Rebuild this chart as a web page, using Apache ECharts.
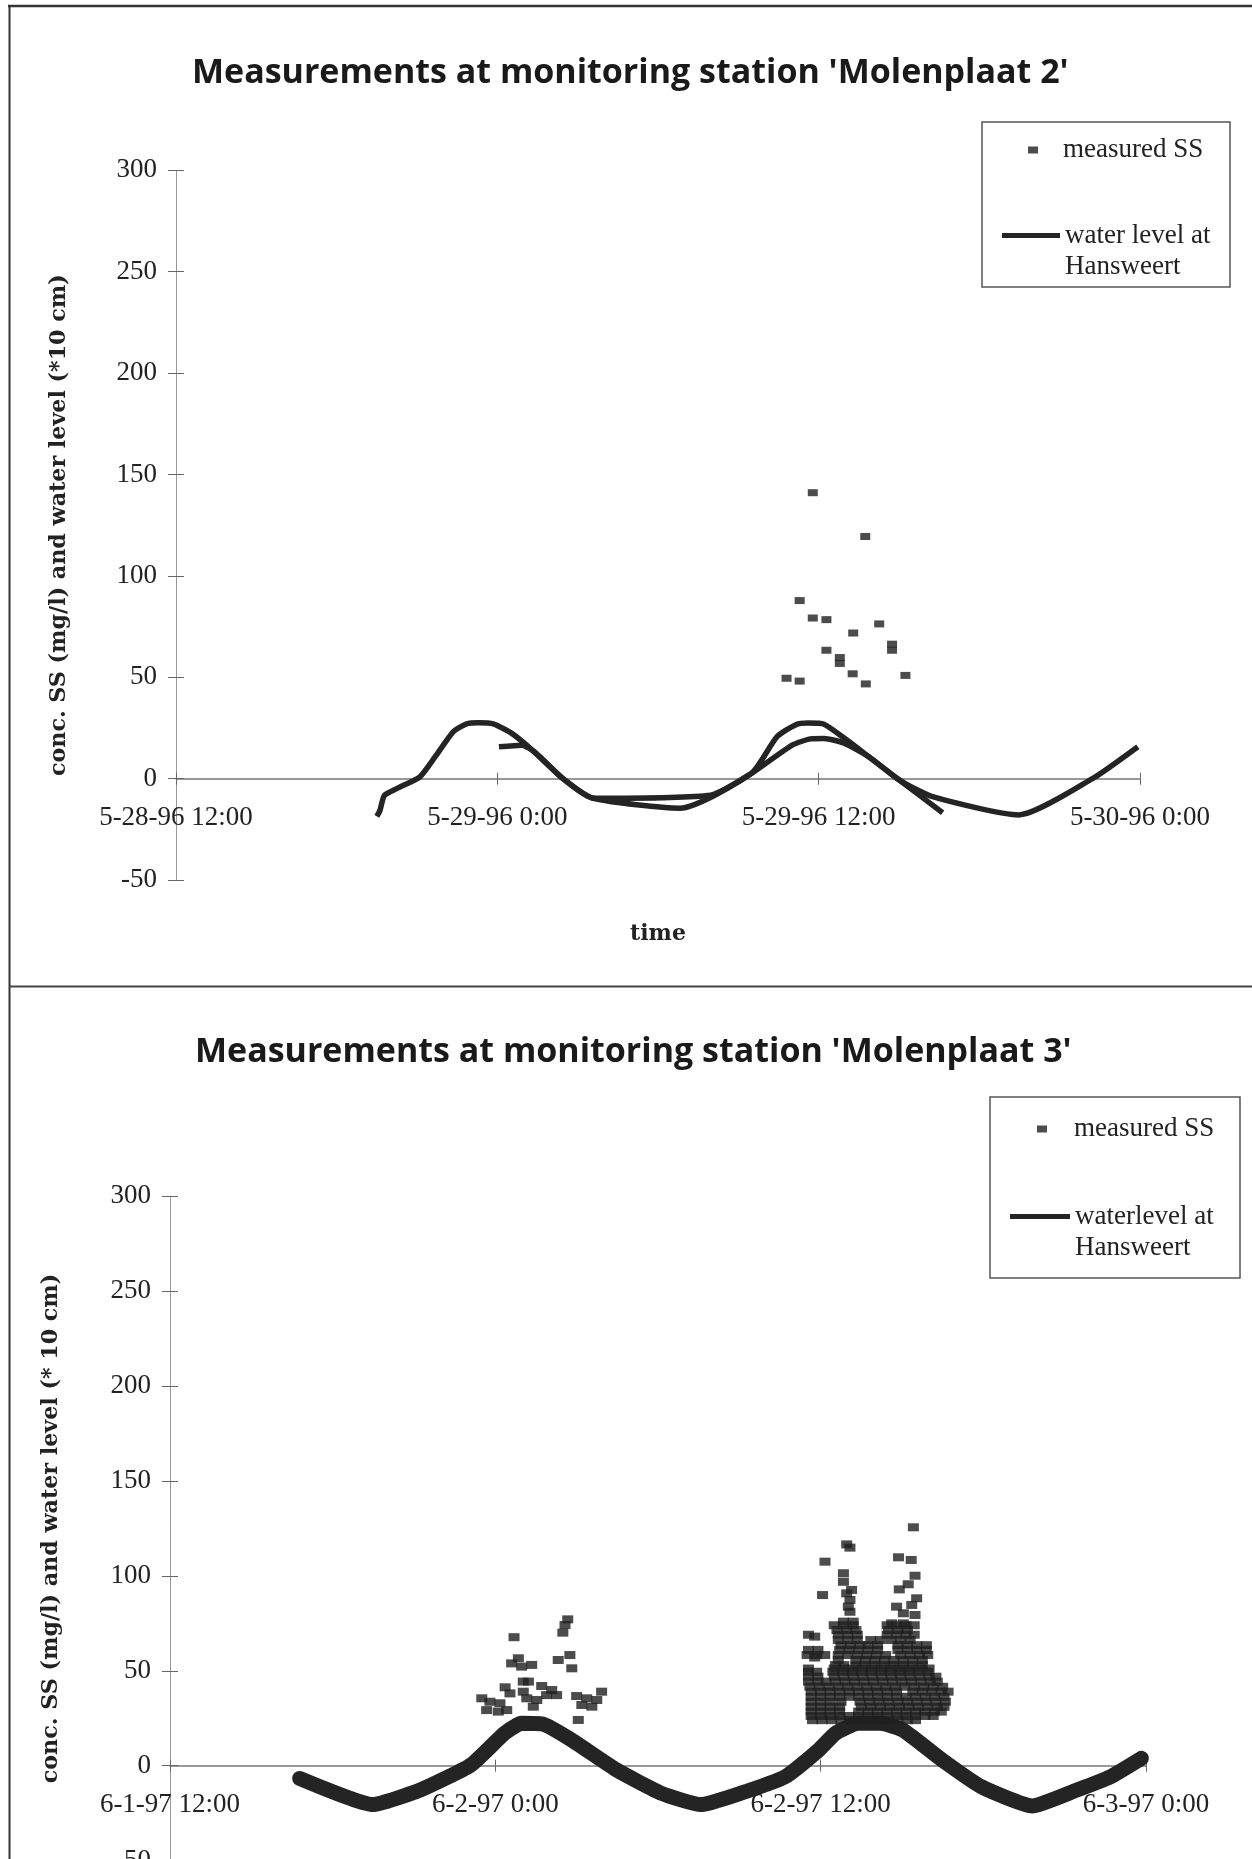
<!DOCTYPE html>
<html>
<head>
<meta charset="utf-8">
<script src="https://cdn.jsdelivr.net/npm/echarts@6/dist/echarts.min.js"></script>
<style>html,body{margin:0;padding:0;background:#fff}#c{width:1252px;height:1859px}</style>
</head>
<body>
<div id="c"></div>
<script>
// ---------- DATA ----------
const titles = ["Measurements at monitoring station 'Molenplaat 2'", "Measurements at monitoring station 'Molenplaat 3'"];
const yAxisNames = ["conc. SS (mg/l) and water level (*10 cm)", "conc. SS (mg/l) and water level (* 10 cm)"];
const xAxisNames = ['time', ''];
const xTickLabels1 = ['5-28-96 12:00', '5-29-96 0:00', '5-29-96 12:00', '5-30-96 0:00'];
const xTickLabels2 = ['6-1-97 12:00', '6-2-97 0:00', '6-2-97 12:00', '6-3-97 0:00'];
const seriesNames = ['measured SS', 'water level at Hansweert', 'waterlevel at Hansweert'];

// chart 1: hours after the first tick label
const ss1Hours  = [22.8, 23.29, 23.29, 23.78, 23.78, 24.29, 24.29, 24.79, 24.79, 25.27, 25.29, 25.74, 25.76, 26.26, 26.74, 26.74, 27.24];
const ss1Values = [49.5, 48.1, 87.8, 141, 79.2, 78.4, 63.3, 59.7, 56.8, 51.7, 71.8, 119.4, 46.7, 76.3, 66.3, 63.3, 50.9];

const wl1aHours  = [7.50, 7.62, 7.78, 8.26, 9.11, 9.68, 10.35, 10.85, 11.3, 11.85, 12.54, 13.30, 14.44, 15.59, 18.82, 21.49, 22.44, 23.15, 23.6, 24.2, 25.0, 25.87, 27.01, 28.63];
const wl1aValues = [-18.6, -15.6, -8.3, -4.8, 0.9, 10.8, 23.1, 27.0, 27.6, 27.0, 22.3, 14.1, 0.1, -9.7, -14.6, 2.6, 20.6, 26.6, 27.4, 26.8, 19.5, 10.8, -0.7, -16.8];
const wl1bHours  = [12.06, 12.92, 13.4, 14.44, 15.59, 19.96, 21.49, 23.01, 23.7, 24.2, 24.95, 25.87, 27.01, 28.25, 31.48, 34.24, 35.92];
const wl1bValues = [15.7, 16.5, 13.0, 0.1, -9.7, -8.2, 2.6, 16.5, 19.6, 19.8, 17.5, 10.8, -0.7, -8.9, -17.9, 0.1, 15.7];

// chart 2
const wl2Hours  = [4.78, 7.47, 9.23, 11.1, 12.34, 12.96, 13.78, 14.82, 16.48, 18.13, 19.58, 21.03, 22.69, 23.93, 24.55, 25.38, 26.2, 27.03, 28.48, 29.93, 31.8, 33.45, 34.69, 35.83];
const wl2Values = [-6.7, -20.5, -12.8, 0.4, 17.1, 22.3, 21.8, 13.5, -2.3, -14.6, -20.5, -14.6, -5.8, 8.3, 17.1, 22.3, 22.3, 18.8, 3.0, -11.1, -21.2, -12.8, -5.8, 3.9];

const ss2Hours = [
  // first tide
  14.67, 14.57, 14.49, 12.69, 12.85, 12.6, 12.97, 13.34, 14.75, 14.32, 14.82, 13.03, 13.22, 12.36, 12.54, 13.71, 14.08, 13.89,
  14.26, 13.03, 13.16, 13.53, 13.4, 11.5, 11.8, 12.17, 11.68, 12.11, 12.42, 15.0, 15.37, 15.92, 15.74, 15.19, 15.56, 15.06,
  // second tide, upper part
  27.42, 24.96, 25.08, 24.16, 26.87, 27.34, 24.84, 27.48, 24.84, 24.07, 25.14, 24.96, 27.23, 26.9, 27.54, 25.08, 25.02, 25.08,
  26.8, 27.36, 27.48, 27.05, 24.84, 25.2, 26.62, 27.05, 23.78, 23.78,
  // second tide, dense part (rows from top to bottom)
  24.5, 24.85, 25.2, 26.45, 26.8, 27.15, 27.45,
  24.6, 24.95, 25.3, 26.5, 26.85, 27.2,
  23.55, 24.65, 25.0, 25.35, 26.45, 26.8, 27.15, 27.45,
  24.65, 25.0, 25.35, 25.85, 26.2, 26.6, 26.95, 27.3,
  24.75, 25.1, 25.45, 25.75, 26.1, 26.85, 27.2, 27.55, 27.9,
  23.55, 23.9, 24.7, 25.05, 25.4, 25.75, 26.1, 26.85, 27.2, 27.55, 27.9,
  23.5, 23.85, 24.15, 24.65, 25.0, 25.35, 25.7, 26.05, 26.4, 26.95, 27.3, 27.65, 27.95,
  24.65, 25.3, 25.65, 26.0, 26.35, 26.7, 27.05, 27.4, 27.75,
  24.55, 24.85, 25.3, 25.65, 26.0, 26.35, 26.7, 27.05, 27.4, 27.75,
  23.55, 24.5, 24.85, 25.2, 25.55, 25.9, 26.25, 26.6, 26.95, 27.3, 27.65, 28.0,
  23.55, 23.85, 24.45, 24.8, 25.15, 25.5, 25.85, 26.2, 26.55, 26.9, 27.25, 27.6, 27.95,
  23.55, 23.9, 24.5, 24.85, 25.2, 25.55, 25.9, 26.25, 26.6, 26.95, 27.3, 27.65, 28.0, 28.25,
  23.55, 23.9, 24.2, 24.55, 24.9, 25.25, 25.6, 25.95, 26.3, 26.65, 27.0, 27.35, 27.7, 28.05, 28.3,
  23.6, 23.95, 24.3, 24.65, 25.0, 25.35, 25.7, 26.05, 26.4, 26.75, 27.1, 27.45, 27.8, 28.15, 28.5,
  23.65, 24.0, 24.35, 24.7, 25.05, 25.4, 25.75, 26.1, 26.45, 26.8, 27.4, 27.75, 28.1, 28.45, 28.7,
  23.65, 24.0, 24.35, 24.7, 25.05, 25.4, 25.75, 26.1, 26.45, 26.8, 27.15, 27.5, 27.85, 28.2, 28.55,
  23.65, 24.0, 24.35, 24.75, 25.45, 25.8, 26.15, 26.5, 26.85, 27.2, 27.55, 27.9, 28.25, 28.6,
  23.65, 24.0, 24.35, 24.7, 25.5, 25.85, 26.2, 26.55, 26.9, 27.25, 27.6, 27.95, 28.3, 28.55,
  23.65, 24.0, 24.35, 24.7, 25.4, 25.75, 26.1, 26.45, 26.8, 27.15, 27.5, 27.85, 28.2, 28.45,
  23.65, 24.0, 24.35, 24.7, 25.05, 25.4, 25.75, 26.1, 26.45, 26.8, 27.15, 27.5, 27.85, 28.15,
  23.7, 24.05, 24.4, 24.75, 25.1, 25.45, 25.8, 26.15, 26.5, 26.85, 27.2, 27.5
];
const ss2Values = [
  77.1, 74.1, 70.1, 67.7, 56.6, 53.9, 52.2, 53.1, 58.3, 55.7, 51.3, 44.3, 44.3, 41.3, 38.1, 42.0, 39.9, 37.2,
  37.2, 39.0, 35.5, 34.6, 31.1, 35.5, 33.7, 32.9, 29.3, 28.5, 29.3, 36.7, 35.5, 39.0, 34.6, 32.0, 31.1, 24.1,
  125.6, 116.6, 114.9, 107.5, 109.8, 108.4, 101.4, 100.1, 96.9, 89.9, 92.6, 90.8, 95.6, 92.9, 88.2, 87.3, 83.8, 81.1,
  83.8, 84.7, 79.4, 80.3, 75.9, 75.9, 75.0, 75.0, 68.0, 57.0,
  74, 74, 74, 74, 74, 74, 74,
  71.5, 71.5, 71.5, 71.5, 71.5, 71.5,
  69, 69, 69, 69, 69, 69, 69, 69,
  66.2, 66.2, 66.2, 66.2, 66.2, 66.2, 66.2, 66.2,
  63.5, 63.5, 63.5, 63.5, 63.5, 63.5, 63.5, 63.5, 63.5,
  61, 61, 61, 61, 61, 61, 61, 61, 61, 61, 61,
  58.3, 58.3, 58.3, 58.3, 58.3, 58.3, 58.3, 58.3, 58.3, 58.3, 58.3, 58.3, 58.3,
  55.7, 55.7, 55.7, 55.7, 55.7, 55.7, 55.7, 55.7, 55.7,
  53, 53, 53, 53, 53, 53, 53, 53, 53, 53,
  51.2, 51.2, 51.2, 51.2, 51.2, 51.2, 51.2, 51.2, 51.2, 51.2, 51.2, 51.2,
  49.5, 49.5, 49.5, 49.5, 49.5, 49.5, 49.5, 49.5, 49.5, 49.5, 49.5, 49.5, 49.5,
  46.9, 46.9, 46.9, 46.9, 46.9, 46.9, 46.9, 46.9, 46.9, 46.9, 46.9, 46.9, 46.9, 46.9,
  44.3, 44.3, 44.3, 44.3, 44.3, 44.3, 44.3, 44.3, 44.3, 44.3, 44.3, 44.3, 44.3, 44.3, 44.3,
  41.6, 41.6, 41.6, 41.6, 41.6, 41.6, 41.6, 41.6, 41.6, 41.6, 41.6, 41.6, 41.6, 41.6, 41.6,
  39, 39, 39, 39, 39, 39, 39, 39, 39, 39, 39, 39, 39, 39, 39,
  36.3, 36.3, 36.3, 36.3, 36.3, 36.3, 36.3, 36.3, 36.3, 36.3, 36.3, 36.3, 36.3, 36.3, 36.3,
  33.7, 33.7, 33.7, 33.7, 33.7, 33.7, 33.7, 33.7, 33.7, 33.7, 33.7, 33.7, 33.7, 33.7,
  31, 31, 31, 31, 31, 31, 31, 31, 31, 31, 31, 31, 31, 31,
  28.5, 28.5, 28.5, 28.5, 28.5, 28.5, 28.5, 28.5, 28.5, 28.5, 28.5, 28.5, 28.5, 28.5,
  26.2, 26.2, 26.2, 26.2, 26.2, 26.2, 26.2, 26.2, 26.2, 26.2, 26.2, 26.2, 26.2, 26.2,
  24, 24, 24, 24, 24, 24, 24, 24, 24, 24, 24, 24
];

// ---------- CHART ----------
const zip = (a, b) => a.map((v, i) => [v, b[i]]);
const serif = '"Liberation Serif", "Times New Roman", serif';
const boldSerif = '"DejaVu Serif", serif';
const ink = '#222';
// distance (px) between the bottom of each grid and its zero line
const zeroOffsets = [-101.3, -94.9];

function mainX(gi, labels, name) {
  return {
    type: 'value', gridIndex: gi, min: 0, max: 36, interval: 12, position: 'bottom', offset: zeroOffsets[gi],
    name: name, nameLocation: 'middle', nameGap: 145,
    nameTextStyle: {fontFamily: boldSerif, fontWeight: 'bold', fontSize: 22, color: ink},
    axisLine: {show: true, onZero: false, lineStyle: {color: '#777', width: 1.5}},
    axisTick: {show: true, inside: false, length: 6, lineStyle: {color: '#666', width: 1}},
    axisLabel: {margin: 26, fontFamily: serif, fontSize: 27, color: ink,
      formatter: v => labels[Math.round(v / 12)]},
    splitLine: {show: false}
  };
}
function dupX(gi) {
  return {
    type: 'value', gridIndex: gi, min: 0, max: 36, interval: 12, position: 'bottom', offset: zeroOffsets[gi],
    axisLine: {show: false, onZero: false},
    axisTick: {show: true, inside: true, length: 6, lineStyle: {color: '#666', width: 1}},
    axisLabel: {show: false}, splitLine: {show: false}
  };
}
function mainY(gi, name, gap) {
  return {
    type: 'value', gridIndex: gi, min: -50, max: 300, interval: 50, position: 'left',
    name: name, nameLocation: 'middle', nameGap: gap, nameRotate: 90,
    nameTextStyle: {fontFamily: boldSerif, fontWeight: 'bold', fontSize: 22.2, color: ink},
    axisLine: {show: true, onZero: false, lineStyle: {color: '#999', width: 1}},
    axisTick: {show: true, inside: false, length: 8, lineStyle: {color: '#666', width: 1}},
    axisLabel: {margin: 19, fontFamily: serif, fontSize: 27, color: ink},
    splitLine: {show: false}
  };
}
function dupY(gi) {
  return {
    type: 'value', gridIndex: gi, min: -50, max: 300, interval: 50, position: 'left',
    axisLine: {show: false, onZero: false},
    axisTick: {show: true, inside: true, length: 8, lineStyle: {color: '#666', width: 1}},
    axisLabel: {show: false}, splitLine: {show: false}
  };
}
const legendText = {fontFamily: serif, fontSize: 27, color: ink, lineHeight: 31};
function ssLegend(left, top, padLeft) {
  return {
    data: [{name: seriesNames[0], icon: 'rect'}], left: left, top: top, padding: 0,
    itemWidth: 10, itemHeight: 7, selectedMode: false,
    textStyle: Object.assign({}, legendText, {padding: [0, 0, 0, padLeft]})
  };
}
function wlLegend(name, left, top, w) {
  return {
    data: [{name: name, icon: 'rect'}], left: left, top: top, padding: 0,
    itemWidth: w, itemHeight: 5, selectedMode: false,
    // leading empty line keeps the first text line level with the line sample
    formatter: n => '\n' + n.replace(' Hansweert', '\nHansweert'),
    textStyle: legendText
  };
}
const titleStyle = {fontFamily: '"Open Sans", sans-serif', fontWeight: 'bold', fontSize: 34, color: '#1a1a1a'};
const lineColor = '#242424';
const markColor = '#1f1f1f';

const option = {
  backgroundColor: '#fff',
  animation: false,
  title: [
    {text: titles[0], left: 192, top: 56.5, padding: 0, textStyle: titleStyle},
    {text: titles[1], left: 195, top: 1035.5, padding: 0, textStyle: titleStyle}
  ],
  grid: [
    {left: 176, top: 170.3, width: 964, height: 709.7, outerBoundsMode: 'none'},
    {left: 170, top: 1196.3, width: 976, height: 664.3, outerBoundsMode: 'none'}
  ],
  xAxis: [mainX(0, xTickLabels1, xAxisNames[0]), dupX(0), mainX(1, xTickLabels2, xAxisNames[1]), dupX(1)],
  yAxis: [mainY(0, yAxisNames[0], 106), dupY(0), mainY(1, yAxisNames[1], 108), dupY(1)],
  legend: [
    ssLegend(1028, 134.5, 20),
    wlLegend(seriesNames[1], 1002, 189, 58),
    ssLegend(1037, 1113.5, 22),
    wlLegend(seriesNames[2], 1010, 1170, 60)
  ],
  graphic: [
    {type: 'line', shape: {x1: 8, y1: 6, x2: 1252, y2: 6}, style: {stroke: '#333', lineWidth: 2.5}},
    {type: 'line', shape: {x1: 9.5, y1: 5, x2: 9.5, y2: 1859}, style: {stroke: '#333', lineWidth: 2}},
    {type: 'line', shape: {x1: 9, y1: 986.5, x2: 1252, y2: 986.5}, style: {stroke: '#444', lineWidth: 2}},
    {type: 'rect', shape: {x: 982, y: 122, width: 248, height: 165}, style: {fill: 'none', stroke: '#555', lineWidth: 1.5}},
    {type: 'rect', shape: {x: 990, y: 1097, width: 250, height: 181}, style: {fill: 'none', stroke: '#555', lineWidth: 1.5}}
  ],
  series: [
    {name: seriesNames[1], type: 'line', xAxisIndex: 0, yAxisIndex: 0, data: zip(wl1aHours, wl1aValues),
      showSymbol: false, smooth: 0.2, lineStyle: {color: lineColor, width: 5.5, join: 'round'}, itemStyle: {color: lineColor}},
    {name: seriesNames[1], type: 'line', xAxisIndex: 0, yAxisIndex: 0, data: zip(wl1bHours, wl1bValues),
      showSymbol: false, smooth: 0.2, lineStyle: {color: lineColor, width: 5.5, join: 'round'}, itemStyle: {color: lineColor}},
    {name: seriesNames[0], type: 'scatter', xAxisIndex: 0, yAxisIndex: 0, data: zip(ss1Hours, ss1Values),
      symbol: 'rect', symbolSize: [10, 7], itemStyle: {color: markColor}, z: 3},
    {name: seriesNames[2], type: 'line', xAxisIndex: 2, yAxisIndex: 2, data: zip(wl2Hours, wl2Values),
      showSymbol: false, smooth: 0.15, lineStyle: {color: lineColor, width: 15, join: 'round', cap: 'round'}, itemStyle: {color: lineColor}},
    {name: seriesNames[0], type: 'scatter', xAxisIndex: 2, yAxisIndex: 2, data: zip(ss2Hours, ss2Values),
      symbol: 'rect', symbolSize: [11, 8], itemStyle: {color: markColor}, z: 3}
  ]
};
const chart = echarts.init(document.getElementById('c'), null, {renderer: 'canvas'});
chart.setOption(option);
</script>
</body>
</html>
